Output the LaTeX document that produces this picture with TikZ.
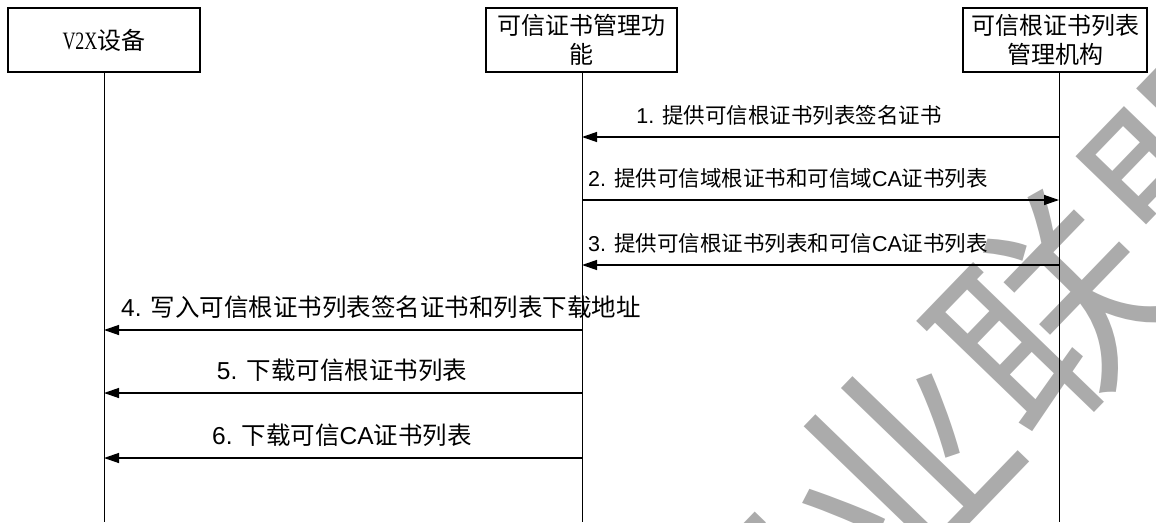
\documentclass[tikz,border=0pt]{standalone}
\usepackage{fontspec}
\setmainfont{Liberation Sans}
\newfontfamily\cjk{Noto Sans CJK SC}
\newfontfamily\serifnarrow{Liberation Serif}
\usetikzlibrary{arrows.meta}
\definecolor{wmgray}{RGB}{171,171,171}
\begin{document}
\begin{tikzpicture}[x=1pt,y=-1pt,
  actor/.style={draw, line width=1.3pt, inner sep=0pt, minimum height=64pt, align=center,
    font=\cjk\fontsize{24}{29}\selectfont},
  life/.style={line width=1pt},
  msg/.style={line width=1.3pt, -{Triangle[length=15pt,width=10pt]}},
  lab/.style={inner sep=0pt, anchor=center},
  labA/.style={lab, font=\fontsize{21.5}{24}\selectfont},
  labB/.style={lab, font=\fontsize{24.5}{27}\selectfont}]
\useasboundingbox (0,0) rectangle (1156,522);
% watermark
\node[text=wmgray, rotate=46, inner sep=0pt, font=\cjk\fontsize{218}{218}\selectfont] (wm) at (975,392) {产业联盟};
% actors
\node[actor, minimum width=192pt] (A) at (104,40) {\scalebox{0.72}[1]{\serifnarrow\fontsize{25}{29}\selectfont V2X}设备};
\node[actor, minimum width=191pt] (B) at (581.5,40) {可信证书管理功\\能};
\node[actor, minimum width=184pt] (C) at (1055,40) {可信根证书列表\\管理机构};
% lifelines
\coordinate (a1) at (104,72);  \coordinate (a2) at (104,522);
\coordinate (b1) at (582,72);  \coordinate (b2) at (582,522);
\coordinate (c1) at (1059,72); \coordinate (c2) at (1059,522);
\draw[life] (a1) -- (a2);
\draw[life] (b1) -- (b2);
\draw[life] (c1) -- (c2);
% message end points
\coordinate (c-m1) at (1059,137); \coordinate (b-m1) at (582,137);
\coordinate (b-m2) at (582,200);  \coordinate (c-m2) at (1059,200);
\coordinate (c-m3) at (1059,265); \coordinate (b-m3) at (582,265);
\coordinate (b-m4) at (582,330);  \coordinate (a-m4) at (104,330);
\coordinate (b-m5) at (582,393);  \coordinate (a-m5) at (104,393);
\coordinate (b-m6) at (582,458);  \coordinate (a-m6) at (104,458);
\draw[msg] (c-m1) -- (b-m1);
\draw[msg] (b-m2) -- (c-m2);
\draw[msg] (c-m3) -- (b-m3);
\draw[msg] (b-m4) -- (a-m4);
\draw[msg] (b-m5) -- (a-m5);
\draw[msg] (b-m6) -- (a-m6);
% labels
\node[labA] (l1) at (789,115) {1. {\cjk 提供可信根证书列表签名证书}};
\node[labA] (l2) at (788,178) {2. {\cjk 提供可信域根证书和可信域}CA{\cjk 证书列表}};
\node[labA] (l3) at (788,243) {3. {\cjk 提供可信根证书列表和可信}CA{\cjk 证书列表}};
\node[labB] (l4) at (381,307) {4. {\cjk 写入可信根证书列表签名证书和列表下载地址}};
\node[labB] (l5) at (342,370) {5. {\cjk 下载可信根证书列表}};
\node[labB] (l6) at (342,435) {6. {\cjk 下载可信}CA{\cjk 证书列表}};
\end{tikzpicture}
\end{document}
